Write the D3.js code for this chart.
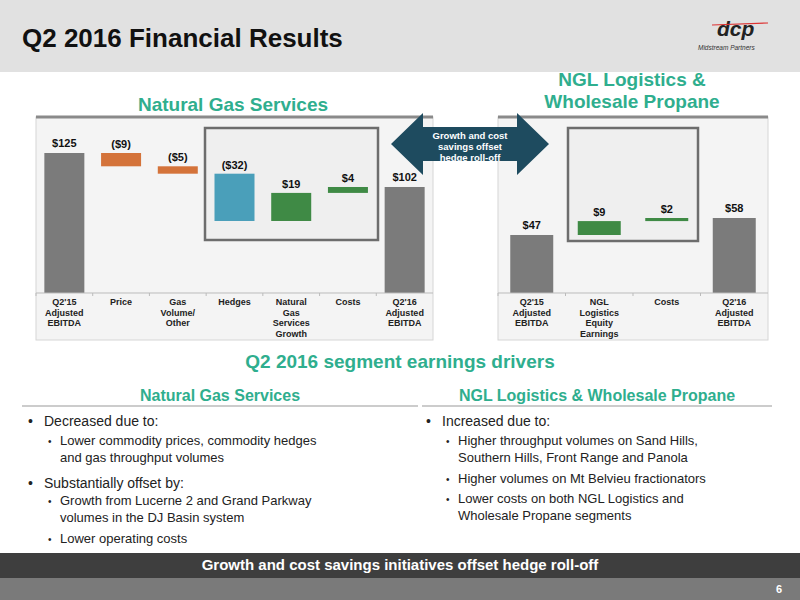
<!DOCTYPE html><html><head><meta charset="utf-8"><script src="https://cdn.jsdelivr.net/npm/d3@7"></script>
<style>body{margin:0}svg{font-family:Arial,"Liberation Sans",sans-serif}</style></head><body><svg id="s" width="800" height="600"></svg><script>
const leftCats=["Q2'15|Adjusted|EBITDA","Price","Gas|Volume/|Other","Hedges","Natural|Gas|Services|Growth","Costs","Q2'16|Adjusted|EBITDA"];
const leftDeltas=[125,-9,-5,-32,19,4,102];
const leftLabels=["$125","($9)","($5)","($32)","$19","$4","$102"];
const leftTypes=["total","neg","neg","hedge","pos","pos","total"];
const rightCats=["Q2'15|Adjusted|EBITDA","NGL|Logistics|Equity|Earnings","Costs","Q2'16|Adjusted|EBITDA"];
const rightDeltas=[47,9,2,58];
const rightLabels=["$47","$9","$2","$58"];
const rightTypes=["total","pos","pos","total"];
const colors={total:"#7b7b7b",neg:"#d4733a",hedge:"#4a9fba",pos:"#3f8a45"};
const teal="#2fae8e";
const svg=d3.select("#s");
svg.append("rect").attr("width",800).attr("height",600).attr("fill","#fff");
svg.append("rect").attr("width",800).attr("height",72).attr("fill","#e1e1e1");
svg.append("text").attr("x",22).attr("y",47).attr("font-size",26).attr("font-weight","bold").attr("fill","#111").text("Q2 2016 Financial Results");
const lg=svg.append("g");
lg.append("text").attr("x",717).attr("y",36).attr("font-size",21).attr("font-style","italic").attr("font-weight","bold").attr("fill","#222").text("dcp");
lg.append("line").attr("x1",712).attr("x2",768).attr("y1",25).attr("y2",23).attr("stroke","#d33").attr("stroke-width",1.2);
lg.append("text").attr("x",698).attr("y",50).attr("font-size",6.5).attr("font-style","italic").attr("fill","#333").text("Midstream Partners");

function waterfall(cats,deltas,labels,types,x0,x1,baseline,y0v,ypx,slope,barW,box){
  svg.append("rect").attr("x",x0).attr("y",117).attr("width",x1-x0).attr("height",223).attr("fill","#f4f4f4").attr("stroke","#d6d6d6");
  svg.append("line").attr("x1",x0).attr("x2",x1).attr("y1",117).attr("y2",117).attr("stroke","#8a8a8a").attr("stroke-width",3);
  svg.append("rect").attr("x",box[0]).attr("y",box[1]).attr("width",box[2]-box[0]).attr("height",box[3]-box[1]).attr("fill","#efefef").attr("stroke","#6d6d6d").attr("stroke-width",2.5);
  const x=d3.scaleBand().domain(cats).range([x0,x1]);
  const y=d3.scaleLinear().domain([0,y0v]).range([ypx+y0v*slope,ypx]);
  let run=0;
  cats.forEach((c,i)=>{
    let top,bot;
    if(types[i]==="total"){run=deltas[i];top=y(run);bot=baseline;}
    else{const a=run,b=run+deltas[i];run=b;top=y(Math.max(a,b));bot=y(Math.min(a,b));}
    const cx=x(c)+x.bandwidth()/2;
    svg.append("rect").attr("x",cx-barW/2).attr("y",top).attr("width",barW).attr("height",Math.max(bot-top,2.5)).attr("fill",colors[types[i]]);
    svg.append("text").attr("x",cx).attr("y",top-(types[i]==="total"?6:5)).attr("text-anchor","middle").attr("font-size",11).attr("font-weight","bold").attr("fill","#111").text(labels[i]);
    c.split("|").forEach((l,j)=>svg.append("text").attr("x",cx).attr("y",305+j*10.5).attr("text-anchor","middle").attr("font-size",9).attr("font-weight","bold").attr("fill","#222").text(l));
  });
  svg.append("line").attr("x1",x0).attr("x2",x1).attr("y1",baseline).attr("y2",baseline).attr("stroke","#bbb");
  x.domain().forEach(c=>svg.append("line").attr("x1",x(c)).attr("x2",x(c)).attr("y1",baseline).attr("y2",baseline+3).attr("stroke","#bbb"));
}
waterfall(leftCats,leftDeltas,leftLabels,leftTypes,36,433,293,125,153,1.478,40,[205,128,378,240]);
waterfall(rightCats,rightDeltas,rightLabels,rightTypes,498,768,293,58,218,1.545,43,[568,128,698,241]);

function t(x,y,s,str,o={}){return svg.append("text").attr("x",x).attr("y",y).attr("font-size",s).attr("fill",o.fill||"#222").attr("text-anchor",o.anchor||"start").attr("font-weight",o.bold?"bold":"normal").text(str);}
t(233,111,19,"Natural Gas Services",{fill:teal,bold:1,anchor:"middle"});
t(632,86,19,"NGL Logistics &",{fill:teal,bold:1,anchor:"middle"});
t(632,108,19,"Wholesale Propane",{fill:teal,bold:1,anchor:"middle"});
svg.append("path").attr("d","M391,144 L423,113 L423,127 L517,127 L517,113 L549,144 L517,175 L517,161 L423,161 L423,175 Z").attr("fill","#1e4b5f");
["Growth and cost","savings offset","hedge roll-off"].forEach((l,i)=>t(470,139+i*11,9.5,l,{fill:"#fff",bold:1,anchor:"middle"}));

t(400,368,19,"Q2 2016 segment earnings drivers",{fill:teal,bold:1,anchor:"middle"});
t(220,401,16,"Natural Gas Services",{fill:teal,bold:1,anchor:"middle"});
t(597,401,16,"NGL Logistics & Wholesale Propane",{fill:teal,bold:1,anchor:"middle"});
svg.append("line").attr("x1",22).attr("x2",418).attr("y1",406).attr("y2",406).attr("stroke","#999");
svg.append("line").attr("x1",422).attr("x2",772).attr("y1",406).attr("y2",406).attr("stroke","#999");
function b1(x,y,str){t(x,y,14,"•");t(x+16,y,14,str);}
function b2(x,y,lines){t(x+20,y,10,"•");lines.forEach((l,i)=>t(x+32,y+i*17,13,l));}
b1(28,426,"Decreased due to:");
b2(28,445,["Lower commodity prices, commodity hedges","and gas throughput volumes"]);
b1(28,488,"Substantially offset by:");
b2(28,505,["Growth from Lucerne 2 and Grand Parkway","volumes in the DJ Basin system"]);
b2(28,543,["Lower operating costs"]);
b1(426,426,"Increased due to:");
b2(426,445,["Higher throughput volumes on Sand Hills,","Southern Hills, Front Range and Panola"]);
b2(426,483,["Higher volumes on Mt Belvieu fractionators"]);
b2(426,503,["Lower costs on both NGL Logistics and","Wholesale Propane segments"]);

svg.append("rect").attr("y",553).attr("width",800).attr("height",25).attr("fill","#3e3e3e");
t(400,570,15,"Growth and cost savings initiatives offset hedge roll-off",{fill:"#fff",bold:1,anchor:"middle"});
svg.append("rect").attr("y",578).attr("width",800).attr("height",22).attr("fill","#7a7a7a");
t(782,593,11,"6",{fill:"#fff",bold:1,anchor:"end"});
</script></body></html>
